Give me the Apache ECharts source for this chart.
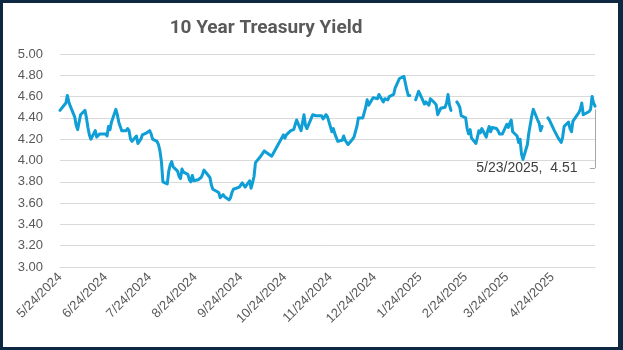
<!DOCTYPE html>
<html>
<head>
<meta charset="utf-8">
<script src="https://cdn.jsdelivr.net/npm/echarts@6/dist/echarts.min.js"></script>
<style>
  html, body { margin: 0; padding: 0; background: #ffffff; }
  #chart { width: 623px; height: 350px; }
</style>
</head>
<body>
<div id="chart"></div>
<script>
const chartTitle = '10 Year Treasury Yield';

const dates = [
  '2024-05-24','2024-05-28','2024-05-29','2024-05-30','2024-05-31',
  '2024-06-03','2024-06-04','2024-06-05','2024-06-06','2024-06-07',
  '2024-06-10','2024-06-11','2024-06-12','2024-06-13','2024-06-14',
  '2024-06-17','2024-06-18','2024-06-20','2024-06-21',
  '2024-06-24','2024-06-25','2024-06-26','2024-06-27','2024-06-28',
  '2024-07-01','2024-07-02','2024-07-03','2024-07-05',
  '2024-07-08','2024-07-09','2024-07-10','2024-07-11','2024-07-12',
  '2024-07-15','2024-07-16','2024-07-17','2024-07-18','2024-07-19',
  '2024-07-22','2024-07-23','2024-07-24','2024-07-25','2024-07-26',
  '2024-07-29','2024-07-30','2024-07-31','2024-08-01','2024-08-02',
  '2024-08-05','2024-08-06','2024-08-07','2024-08-08','2024-08-09',
  '2024-08-12','2024-08-13','2024-08-14','2024-08-15','2024-08-16',
  '2024-08-19','2024-08-20','2024-08-21','2024-08-22','2024-08-23',
  '2024-08-26','2024-08-27','2024-08-28','2024-08-29','2024-08-30',
  '2024-09-03','2024-09-04','2024-09-05','2024-09-06',
  '2024-09-09','2024-09-10','2024-09-11','2024-09-12','2024-09-13',
  '2024-09-16','2024-09-17','2024-09-18','2024-09-19','2024-09-20',
  '2024-09-23','2024-09-24','2024-09-25','2024-09-26','2024-09-27',
  '2024-09-30','2024-10-01','2024-10-02','2024-10-03','2024-10-04',
  '2024-10-07','2024-10-08','2024-10-09','2024-10-10','2024-10-11',
  '2024-10-15','2024-10-16','2024-10-17','2024-10-18',
  '2024-10-21','2024-10-22','2024-10-23','2024-10-24','2024-10-25',
  '2024-10-28','2024-10-29','2024-10-30','2024-10-31','2024-11-01',
  '2024-11-04','2024-11-05','2024-11-06','2024-11-07','2024-11-08',
  '2024-11-12','2024-11-13','2024-11-14','2024-11-15',
  '2024-11-18','2024-11-19','2024-11-20','2024-11-21','2024-11-22',
  '2024-11-25','2024-11-26','2024-11-27','2024-11-29',
  '2024-12-02','2024-12-03','2024-12-04','2024-12-05','2024-12-06',
  '2024-12-09','2024-12-10','2024-12-11','2024-12-12','2024-12-13',
  '2024-12-16','2024-12-17','2024-12-18','2024-12-19','2024-12-20',
  '2024-12-23','2024-12-24','2024-12-26','2024-12-27',
  '2024-12-30','2024-12-31','2025-01-02','2025-01-03',
  '2025-01-06','2025-01-07','2025-01-08','2025-01-10',
  '2025-01-13','2025-01-14','2025-01-15','2025-01-16','2025-01-17',
  '2025-01-20','2025-01-21','2025-01-22','2025-01-23','2025-01-24',
  '2025-01-27','2025-01-28','2025-01-29','2025-01-30','2025-01-31',
  '2025-02-03','2025-02-04','2025-02-05','2025-02-06','2025-02-07',
  '2025-02-10','2025-02-11','2025-02-12','2025-02-13','2025-02-14',
  '2025-02-17','2025-02-18','2025-02-19','2025-02-20','2025-02-21',
  '2025-02-24','2025-02-25','2025-02-26','2025-02-27','2025-02-28',
  '2025-03-03','2025-03-04','2025-03-05','2025-03-06','2025-03-07',
  '2025-03-10','2025-03-11','2025-03-12','2025-03-13','2025-03-14',
  '2025-03-17','2025-03-18','2025-03-19','2025-03-20','2025-03-21',
  '2025-03-24','2025-03-25','2025-03-26','2025-03-27','2025-03-28',
  '2025-03-31','2025-04-01','2025-04-02','2025-04-03','2025-04-04',
  '2025-04-07','2025-04-08','2025-04-09','2025-04-10','2025-04-11',
  '2025-04-14','2025-04-15','2025-04-16','2025-04-17','2025-04-18',
  '2025-04-21','2025-04-22','2025-04-23','2025-04-24','2025-04-25',
  '2025-04-28','2025-04-29','2025-04-30','2025-05-01','2025-05-02',
  '2025-05-05','2025-05-06','2025-05-07','2025-05-08','2025-05-09',
  '2025-05-12','2025-05-13','2025-05-14','2025-05-15','2025-05-16',
  '2025-05-19','2025-05-20','2025-05-21','2025-05-22','2025-05-23'
];

const yields = [
  4.47,4.54,4.61,4.55,4.51,
  4.41,4.33,4.29,4.29,4.43,
  4.47,4.40,4.31,4.24,4.20,
  4.28,4.22,4.25,4.25,
  4.25,4.23,4.32,4.29,4.36,
  4.48,4.43,4.36,4.28,
  4.28,4.30,4.28,4.20,4.18,
  4.23,4.16,4.16,4.20,4.24,
  4.26,4.25,4.28,4.25,4.20,
  4.18,4.15,4.09,3.99,3.80,
  3.78,3.90,3.96,3.99,3.94,
  3.90,3.85,3.83,3.92,3.89,
  3.87,3.82,3.80,3.86,3.81,
  3.82,3.83,3.84,3.87,3.91,
  3.84,3.77,3.73,3.72,
  3.70,3.65,3.65,3.68,3.66,
  3.63,3.65,3.70,3.73,3.73,
  3.75,3.74,3.79,3.80,3.75,
  3.81,3.74,3.79,3.85,3.98,
  4.03,4.04,4.07,4.09,4.10,
  4.04,4.03,4.09,4.08,
  4.19,4.20,4.24,4.21,4.24,
  4.28,4.28,4.29,4.28,4.38,
  4.28,4.27,4.43,4.33,4.30,
  4.43,4.44,4.42,4.43,
  4.42,4.39,4.41,4.43,4.41,
  4.27,4.30,4.25,4.18,
  4.19,4.23,4.19,4.17,4.15,
  4.20,4.22,4.27,4.32,4.40,
  4.40,4.40,4.50,4.57,4.52,
  4.59,4.59,4.58,4.62,
  4.55,4.58,4.57,4.60,
  4.62,4.68,4.69,4.77,
  4.79,4.78,4.66,4.61,4.61,
  null,4.57,4.61,4.65,4.62,
  4.53,4.55,4.55,4.52,4.58,
  4.54,4.52,4.43,4.44,4.49,
  4.50,4.54,4.62,4.52,4.47,
  null,4.55,4.53,4.50,4.42,
  4.40,4.30,4.25,4.29,4.21,
  4.16,4.22,4.28,4.26,4.30,
  4.22,4.28,4.32,4.27,4.31,
  4.30,4.28,4.25,4.24,4.25,
  4.34,4.31,4.35,4.38,4.27,
  4.23,4.17,4.20,4.06,4.01,
  4.15,4.26,4.34,4.42,4.48,
  4.38,4.35,4.28,4.32,null,
  4.40,4.38,4.39,4.32,4.29,
  4.21,4.19,4.17,4.22,4.32,
  4.36,4.30,4.27,4.37,4.37,
  4.45,4.48,4.54,4.43,4.43,
  4.46,4.48,4.60,4.54,4.51
];

const tickDates = [
  '2024-05-24','2024-06-24','2024-07-24','2024-08-24','2024-09-24','2024-10-24',
  '2024-11-24','2024-12-24','2025-01-24','2025-02-24','2025-03-24','2025-04-24'
];

const yTicks = { min: 3.0, max: 5.0, step: 0.2 };
const calloutLevel = 3.93;

function toTs(s) {
  const p = s.split('-').map(Number);
  return new Date(p[0], p[1] - 1, p[2]).getTime();
}
function fmtDate(v) {
  const d = new Date(Math.round(v));
  return (d.getMonth() + 1) + '/' + d.getDate() + '/' + d.getFullYear();
}

const DAY = 86400000;
const seriesData = dates.map((d, i) => [toTs(d), yields[i] === null ? '-' : yields[i]]);
const lastIdx = dates.length - 1;
const lastTs = toTs(dates[lastIdx]);
const lastVal = yields[lastIdx];
const calloutText = fmtDate(lastTs) + ',  ' + lastVal.toFixed(2);

const W = 623, H = 350;
const borderColor = '#0e2841';

const chart = echarts.init(document.getElementById('chart'), null, { renderer: 'canvas' });
chart.setOption({
  animation: false,
  backgroundColor: '#ffffff',
  title: {
    text: chartTitle,
    left: 261,
    top: 14,
    textAlign: 'center',
    textStyle: {
      fontFamily: '"Liberation Sans Narrow", "Roboto", sans-serif',
      fontWeight: 'bold',
      fontSize: 19,
      color: '#595959'
    }
  },
  grid: { left: 60, right: 28, top: 54, bottom: 83, containLabel: false },
  xAxis: {
    type: 'value',
    min: toTs(dates[0]),
    max: lastTs,
    axisLine: { show: true, lineStyle: { color: '#d9d9d9', width: 1 } },
    axisTick: { show: false },
    splitLine: { show: false },
    axisLabel: {
      customValues: tickDates.map(toTs),
      rotate: 45,
      margin: 8,
      hideOverlap: false,
      showMinLabel: true,
      formatter: function (v) { return fmtDate(v); },
      color: '#595959',
      fontSize: 13,
      fontFamily: '"Liberation Sans", Arial, sans-serif'
    }
  },
  yAxis: {
    type: 'value',
    min: yTicks.min,
    max: yTicks.max,
    interval: yTicks.step,
    axisLine: { show: false },
    axisTick: { show: false },
    splitLine: { show: true, lineStyle: { color: '#d9d9d9', width: 1 } },
    axisLabel: {
      margin: 17,
      formatter: function (v) { return v.toFixed(2); },
      color: '#595959',
      fontSize: 13,
      fontFamily: '"Liberation Sans", Arial, sans-serif'
    }
  },
  series: [{
    type: 'line',
    data: seriesData,
    showSymbol: false,
    connectNulls: false,
    lineStyle: { color: '#0f9ed5', width: 3, join: 'round', cap: 'round' },
    itemStyle: { color: '#0f9ed5' },
    markLine: {
      silent: true,
      symbol: ['none', 'none'],
      animation: false,
      lineStyle: { color: '#a6a6a6', width: 1, type: 'solid' },
      label: { show: false },
      data: [
        [{ coord: [lastTs, lastVal - 0.03] }, { coord: [lastTs, calloutLevel] }],
        [{ coord: [lastTs, calloutLevel] }, { coord: [lastTs - 3.5 * DAY, calloutLevel] }]
      ]
    },
    markPoint: {
      silent: true,
      animation: false,
      symbol: 'circle',
      symbolSize: 1,
      itemStyle: { color: 'rgba(0,0,0,0)' },
      label: {
        show: true,
        position: 'left',
        distance: 17,
        formatter: calloutText,
        color: '#404040',
        fontSize: 14,
        fontFamily: '"Liberation Sans", Arial, sans-serif'
      },
      data: [{ coord: [lastTs, calloutLevel] }]
    }
  }],
  graphic: [
    { type: 'rect', shape: { x: 0, y: 0, width: 3, height: H }, style: { fill: borderColor }, silent: true },
    { type: 'rect', shape: { x: 0, y: 0, width: W, height: 3 }, style: { fill: borderColor }, silent: true },
    { type: 'rect', shape: { x: W - 5, y: 0, width: 5, height: H }, style: { fill: borderColor }, silent: true },
    { type: 'rect', shape: { x: 0, y: H - 3, width: W, height: 3 }, style: { fill: borderColor }, silent: true }
  ]
});
</script>
</body>
</html>
